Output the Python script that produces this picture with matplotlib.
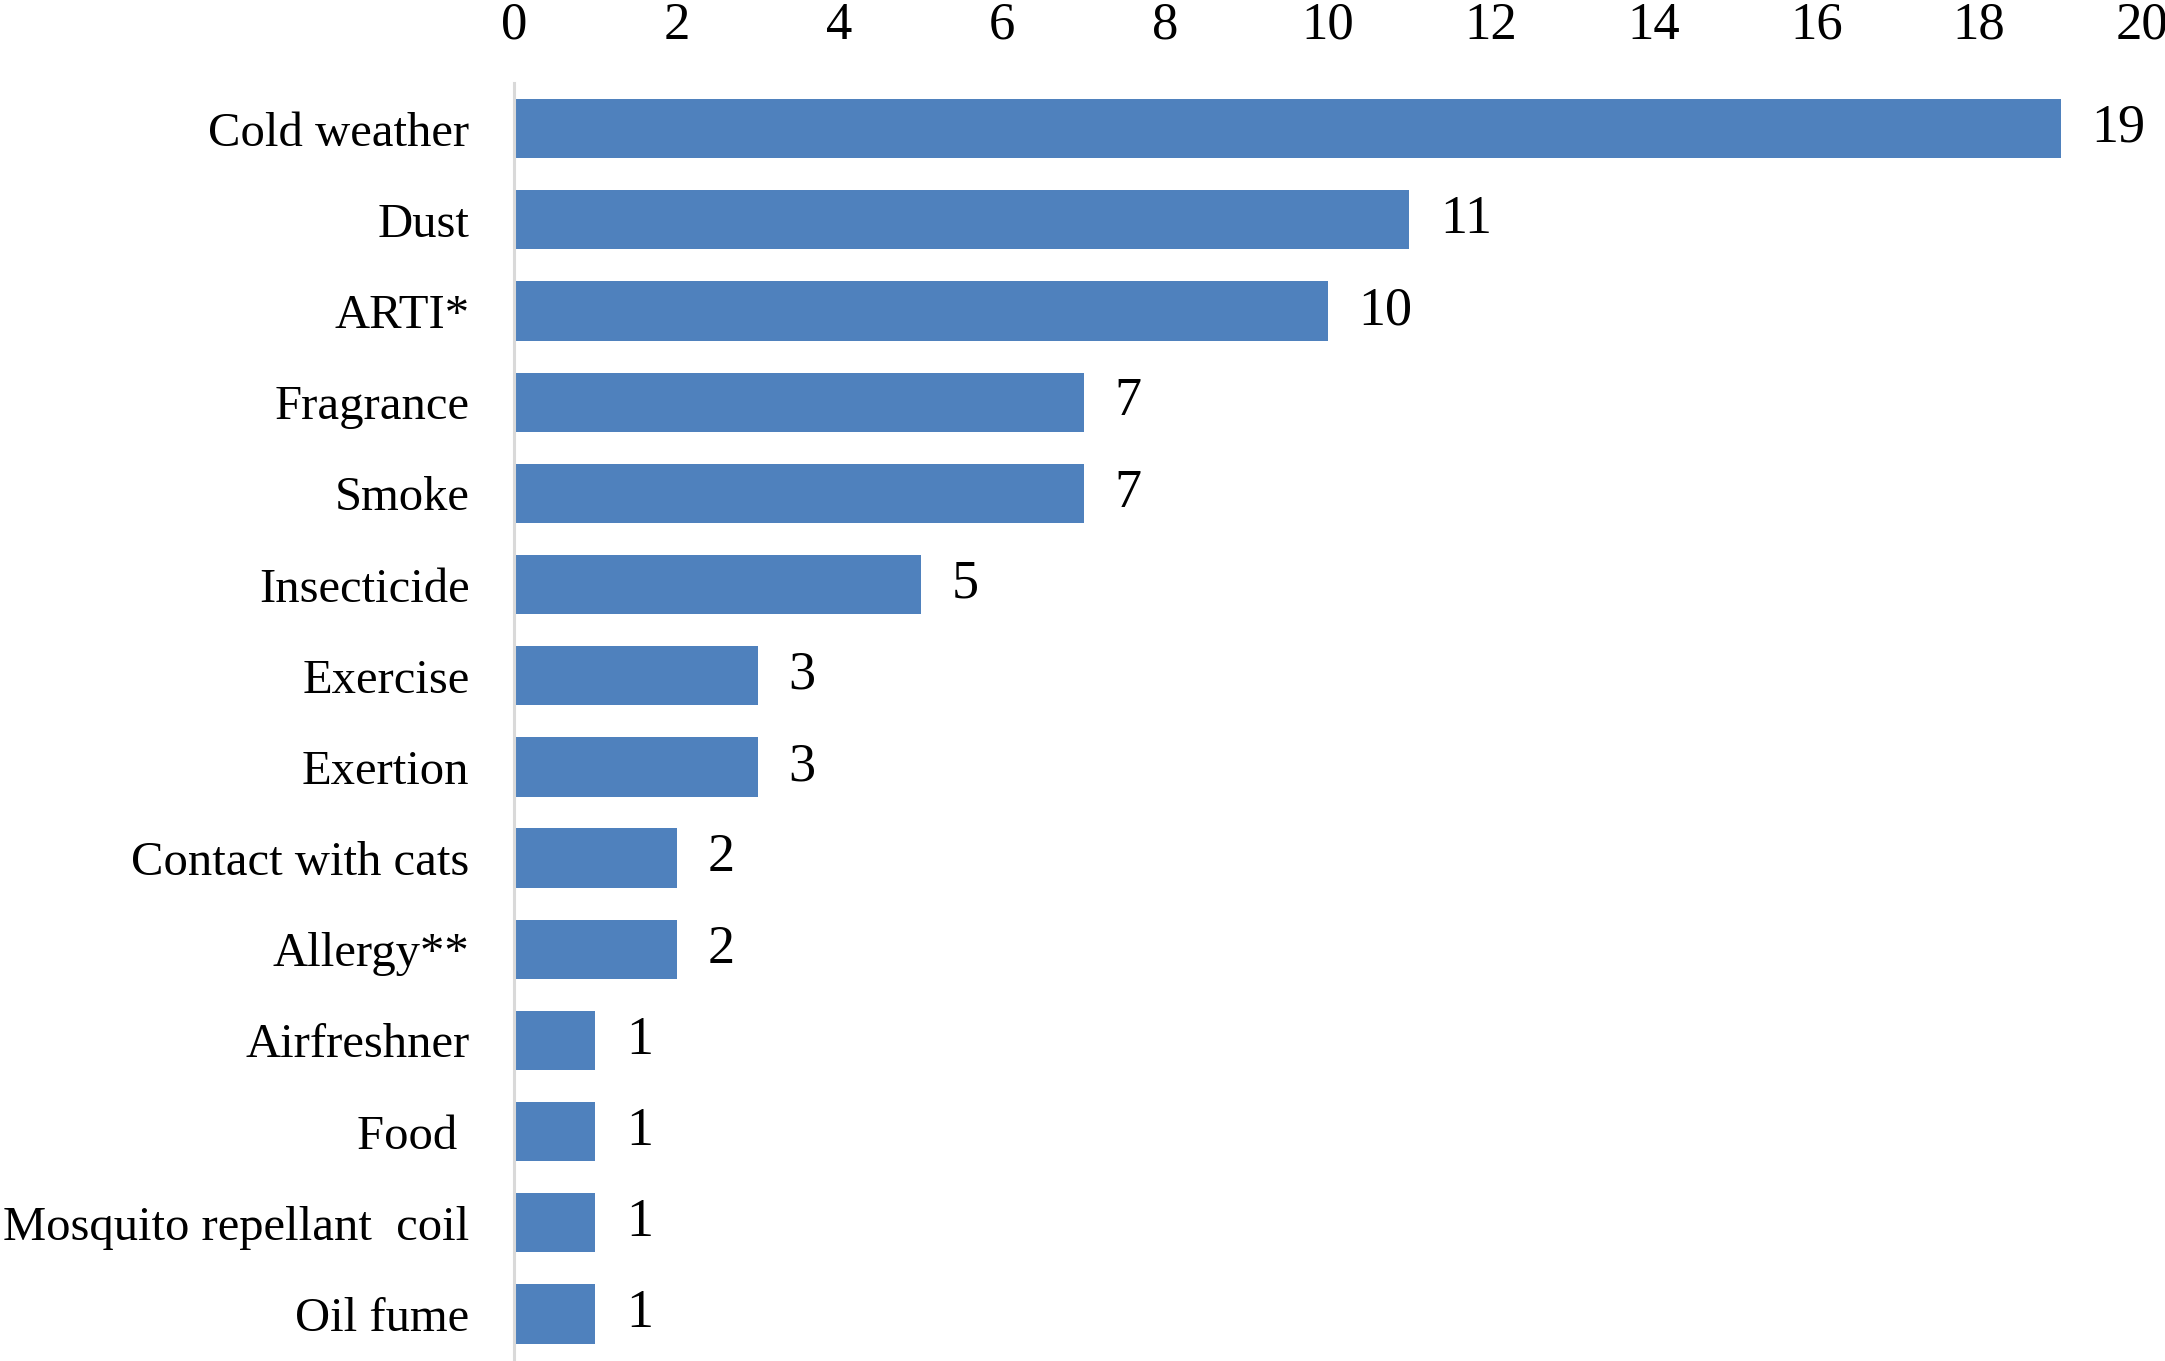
import matplotlib.pyplot as plt

causes = ["Cold weather", "Dust", "ARTI*", "Fragrance", "Smoke", "Insecticide",
          "Exercise", "Exertion", "Contact with cats", "Allergy**", "Airfreshner",
          "Food ", "Mosquito repellant  coil", "Oil fume"]
counts = [19, 11, 10, 7, 7, 5, 3, 3, 2, 2, 1, 1, 1, 1]
xticks = [0, 2, 4, 6, 8, 10, 12, 14, 16, 18, 20]

plt.rcParams['font.family'] = ['Liberation Serif', 'DejaVu Serif']

fig = plt.figure(figsize=(21.65, 13.61), dpi=100)
ax = fig.add_axes([0.2374, 0.001, 0.7520, 0.938])

bars = ax.barh(range(len(causes)), counts, height=0.65, color="#4F81BD")
ax.bar_label(bars, labels=[str(c) for c in counts], padding=22, fontsize=39)

ax.set_ylim(len(causes) - 0.5, -0.5)
ax.set_xlim(0, 20)
ax.set_yticks(range(len(causes)))
ax.set_yticklabels(causes, fontsize=35, va='center_baseline')
ax.set_xticks(xticks)
ax.set_xticklabels([str(t) for t in xticks], fontsize=38)
ax.xaxis.tick_top()
ax.tick_params(axis='x', length=0, pad=24)
ax.tick_params(axis='y', length=0, pad=32)

for s in ["top", "right", "bottom"]:
    ax.spines[s].set_visible(False)
ax.spines["left"].set_color("#D9D9D9")
ax.spines["left"].set_linewidth(2.2)

fig.savefig("out.png", dpi=100)
